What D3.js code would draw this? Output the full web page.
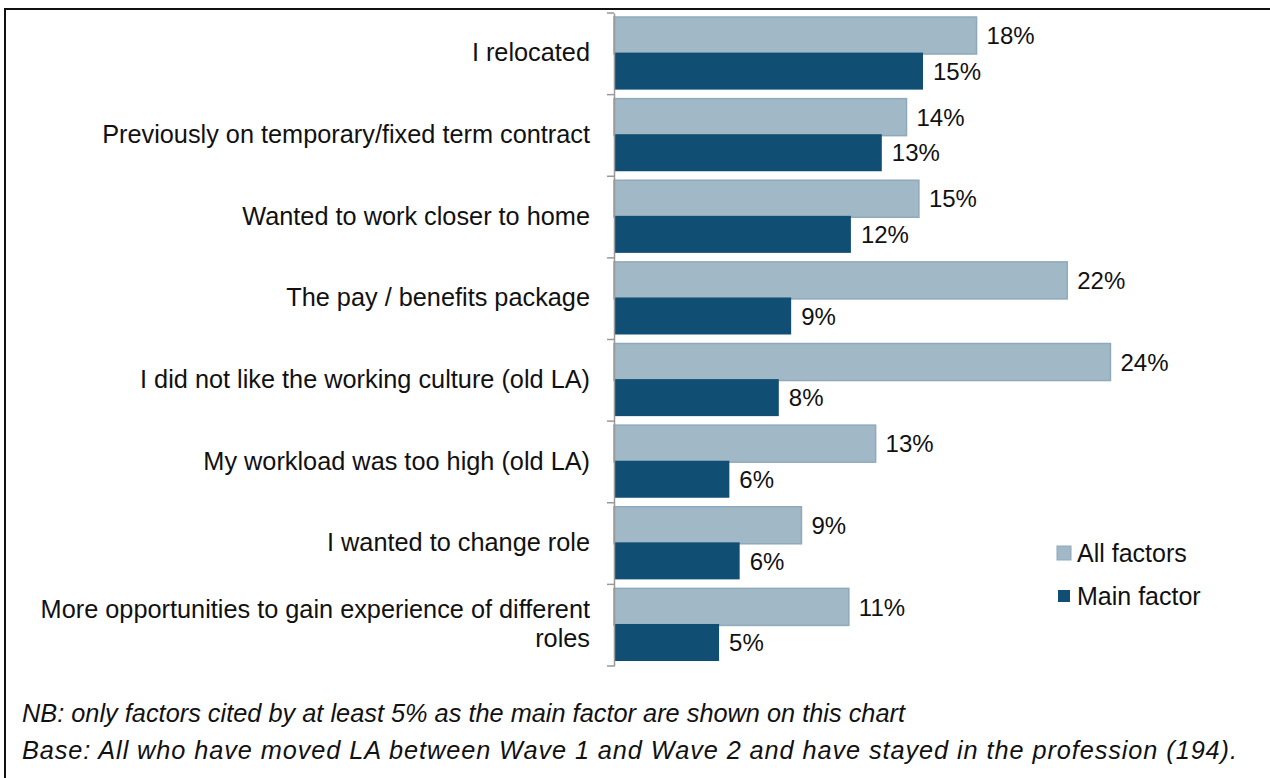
<!DOCTYPE html>
<html><head><meta charset="utf-8">
<script src="https://cdn.jsdelivr.net/npm/d3@7"></script>
<style>body{margin:0;background:#fff}svg{display:block;font-family:"Liberation Sans",Arial,sans-serif}</style>
</head><body><svg id="c" width="1270" height="778"></svg>
<script>
const categories = ["I relocated","Previously on temporary/fixed term contract","Wanted to work closer to home","The pay / benefits package","I did not like the working culture (old LA)","My workload was too high (old LA)","I wanted to change role","More opportunities to gain experience of different roles"];
const allFactors = [17.6,14.2,14.8,22.0,24.1,12.7,9.1,11.4];
const mainFactor = [15.0,13.0,11.5,8.6,8.0,5.6,6.1,5.1];
const seriesNames = ["All factors","Main factor"];
const notes = ["NB: only factors cited by at least 5% as the main factor are shown on this chart","Base: All who have moved LA between Wave 1 and Wave 2 and have stayed in the profession (194)."];

const noteWidths = [883, 1215];
const svg = d3.select("#c");
const colors = {"All factors":"#a1b8c7","Main factor":"#114e73"};
const strokes = {"All factors":"#8fa9bb","Main factor":"#114e73"};
// frame
svg.append("line").attr("x1",5).attr("x2",1270).attr("y1",9).attr("y2",9).attr("stroke","#111").attr("stroke-width",2);
svg.append("line").attr("x1",5).attr("x2",5).attr("y1",8).attr("y2",778).attr("stroke","#111").attr("stroke-width",2);

const x = d3.scaleLinear().domain([0,30]).range([614,614+618]);
const y = d3.scaleBand().domain(categories).range([13,666]).paddingInner(0).paddingOuter(0);
const y1 = d3.scaleBand().domain(seriesNames).range([4,y.bandwidth()-5]).paddingInner(-0.04);

const data = categories.map((c,i)=>({cat:c, vals:[{s:"All factors",v:allFactors[i]},{s:"Main factor",v:mainFactor[i]}]}));
const g = svg.append("g");
const groups = g.selectAll("g.cat").data(data).join("g").attr("transform",d=>`translate(0,${y(d.cat)})`);
groups.selectAll("rect").data(d=>d.vals).join("rect")
  .attr("x",x(0)).attr("y",d=>y1(d.s)).attr("width",d=>x(d.v)-x(0)).attr("height",y1.bandwidth())
  .attr("fill",d=>colors[d.s]).attr("stroke",d=>strokes[d.s]).attr("stroke-width",d=>d.s==="All factors"?1.5:0);
groups.each(function(){ d3.select(this).selectAll("rect").filter(d=>d.s==="Main factor").raise(); });
groups.selectAll("text.v").data(d=>d.vals).join("text").attr("class","v")
  .attr("x",d=>x(d.v)+10).attr("y",d=>y1(d.s)+y1.bandwidth()/2).attr("dy","0.36em")
  .attr("font-size",24).attr("fill","#111").text(d=>d3.format(".0f")(d.v)+"%");

// axis
const axis = d3.axisLeft(y).tickSize(0).tickFormat("");
const ag = svg.append("g").attr("transform",`translate(614,0)`).call(axis);
ag.select(".domain").attr("stroke","#999").attr("stroke-width",1.5);
ag.selectAll(".tick").remove();
const bounds = categories.map(c=>y(c)).concat([y(categories[categories.length-1])+y.bandwidth()]);
ag.selectAll("line.t").data(bounds).join("line").attr("class","t").attr("x1",-7).attr("x2",0).attr("y1",d=>d).attr("y2",d=>d).attr("stroke","#999").attr("stroke-width",1.5);

// category labels
const maxW = 560;
categories.forEach(c=>{
  const cy = y(c)+y.bandwidth()/2 - 1.5;
  const t = svg.append("text").attr("x",590).attr("text-anchor","end").attr("font-size",25.3).attr("fill","#111");
  let lines=[c];
  t.text(c);
  if(t.node().getComputedTextLength()>maxW){
    const w=c.split(" "); lines=[]; let cur="";
    w.forEach(word=>{const test=cur?cur+" "+word:word; t.text(test); if(t.node().getComputedTextLength()>maxW&&cur){lines.push(cur);cur=word;}else cur=test;});
    lines.push(cur);
  }
  t.text(null);
  const lh=29;
  lines.forEach((l,i)=>t.append("tspan").attr("x",590).attr("y",cy+(i-(lines.length-1)/2)*lh).attr("dy","0.36em").text(l));
});

// legend
const lg = svg.append("g").selectAll("g").data(seriesNames).join("g").attr("transform",(d,i)=>`translate(1057,${553+i*43})`);
lg.append("rect").attr("x",d=>d==="All factors"?0:1).attr("y",d=>d==="All factors"?-7:-6).attr("width",d=>d==="All factors"?14:12).attr("height",d=>d==="All factors"?14:12).attr("fill",d=>colors[d]).attr("stroke",d=>strokes[d]).attr("stroke-width",d=>d==="All factors"?1:0);
lg.append("text").attr("x",20).attr("dy","0.36em").attr("font-size",25).attr("fill","#111").text(d=>d);

// notes
svg.selectAll("text.n").data(notes).join("text").attr("class","n").attr("x",22).attr("y",(d,i)=>713+i*37).attr("dy","0.36em")
  .attr("font-size",25.3).attr("font-style","italic").attr("fill","#111")
  .attr("textLength",(d,i)=>noteWidths[i]).attr("lengthAdjust","spacing").text(d=>d);
</script></body></html>
